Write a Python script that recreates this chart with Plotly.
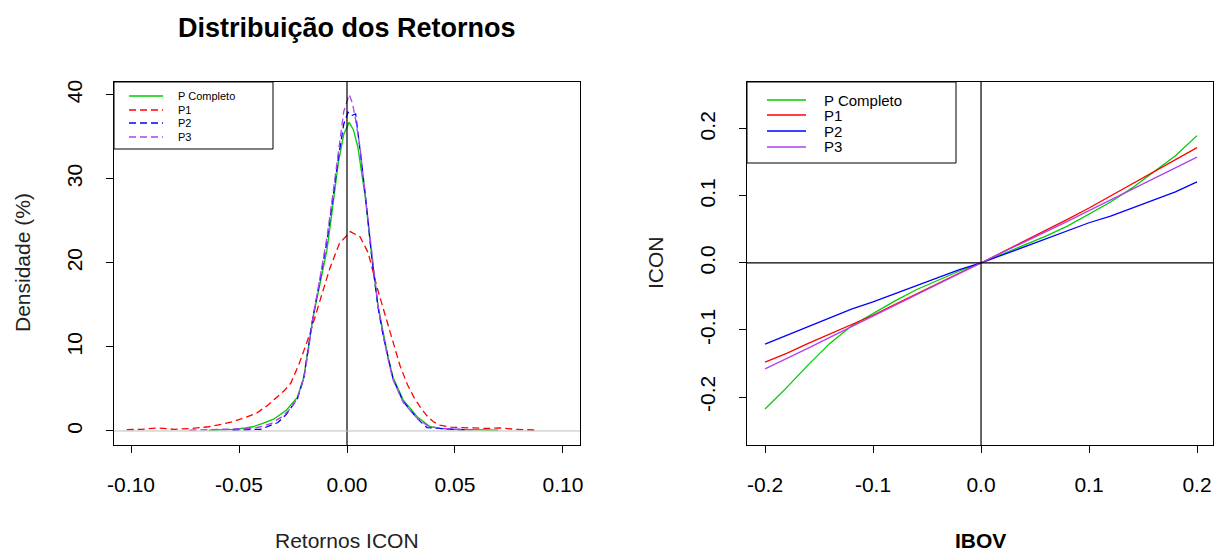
import plotly.graph_objects as go

# ---------------- data ----------------
# Kernel densities of ICON returns (density in %), one sample per period
ret_full = [-0.064, -0.053, -0.047, -0.0436, -0.039, -0.034, -0.028, -0.023, -0.020, -0.018,
            -0.0158, -0.0125, -0.0093, -0.007, -0.004, -0.0015, 0.001, 0.003, 0.005, 0.0084,
            0.0116, 0.0143, 0.0167, 0.019, 0.0213, 0.026, 0.0325, 0.0385, 0.043, 0.048, 0.058, 0.070]
dens_full = [0.1, 0.2, 0.35, 0.5, 0.9, 1.4, 2.5, 4.0, 6.4, 9.5,
             13.4, 17.5, 21.5, 25.9, 31.9, 35.3, 36.7, 35.8, 33.8, 27.9,
             20.4, 15.0, 11.7, 8.8, 6.4, 3.7, 1.7, 0.5, 0.3, 0.2, 0.15, 0.1]

ret_p1 = [-0.102, -0.095, -0.088, -0.080, -0.072, -0.064, -0.058, -0.053, -0.047, -0.042,
          -0.037, -0.0325, -0.029, -0.026, -0.022, -0.017, -0.0125, -0.008, -0.0035, 0.0015,
          0.006, 0.0098, 0.014, 0.017, 0.020, 0.0245, 0.028, 0.031, 0.034, 0.037,
          0.040, 0.043, 0.048, 0.056, 0.064, 0.071, 0.078, 0.088]
dens_p1 = [0.15, 0.2, 0.35, 0.2, 0.3, 0.5, 0.8, 1.1, 1.6, 2.1,
           3.0, 4.0, 4.8, 5.7, 8.1, 11.7, 15.6, 19.3, 22.3, 23.7,
           23.1, 21.2, 17.0, 14.4, 12.0, 7.8, 5.5, 4.0, 2.8, 1.8,
           1.1, 0.7, 0.45, 0.35, 0.3, 0.35, 0.2, 0.1]

ret_p2 = [-0.053, -0.046, -0.040, -0.036, -0.032, -0.028, -0.023, -0.020, -0.018, -0.0158,
          -0.0125, -0.0093, -0.007, -0.004, -0.0015, 0.0005, 0.002, 0.004, 0.006, 0.0084,
          0.0116, 0.0143, 0.0167, 0.019, 0.0213, 0.026, 0.0325, 0.037, 0.043, 0.050, 0.056]
dens_p2 = [0.1, 0.15, 0.2, 0.6, 1.0, 2.0, 3.8, 6.3, 9.5, 13.5,
           18.0, 22.5, 26.8, 32.5, 36.5, 37.9, 37.5, 37.7, 33.5, 28.3,
           20.4, 14.8, 11.4, 8.6, 6.2, 3.5, 1.5, 0.4, 0.3, 0.2, 0.1]

ret_p3 = [-0.073, -0.060, -0.050, -0.044, -0.040, -0.035, -0.030, -0.026, -0.023, -0.020,
          -0.018, -0.0158, -0.0125, -0.0093, -0.007, -0.004, -0.0015, 0.0010, 0.0025, 0.004,
          0.006, 0.0084, 0.0116, 0.0143, 0.0167, 0.019, 0.0213, 0.026, 0.0325, 0.038,
          0.045, 0.052, 0.060]
dens_p3 = [0.1, 0.15, 0.2, 0.3, 0.5, 0.9, 1.7, 2.7, 3.9, 6.2,
           9.3, 13.4, 18.2, 23.0, 27.3, 33.5, 38.0, 40.0, 39.0, 37.0,
           33.8, 28.2, 20.6, 15.0, 11.5, 8.5, 6.1, 3.4, 1.5, 0.5,
           0.3, 0.2, 0.1]

# ICON response to IBOV moves, per period
ibov = [-0.20, -0.18, -0.16, -0.14, -0.12, -0.10, -0.08, -0.06, -0.04, -0.02, 0.0,
        0.02, 0.04, 0.06, 0.08, 0.10, 0.12, 0.14, 0.16, 0.18, 0.20]
icon_full = [-0.218, -0.186, -0.152, -0.120, -0.094, -0.075, -0.057, -0.040, -0.026, -0.012, 0.0,
             0.013, 0.026, 0.040, 0.055, 0.073, 0.091, 0.112, 0.136, 0.160, 0.190]
icon_p1 = [-0.148, -0.135, -0.120, -0.106, -0.092, -0.078, -0.062, -0.046, -0.030, -0.015, 0.0,
           0.016, 0.032, 0.049, 0.065, 0.082, 0.100, 0.117, 0.135, 0.153, 0.172]
icon_p2 = [-0.121, -0.108, -0.096, -0.082, -0.069, -0.058, -0.046, -0.034, -0.022, -0.010, 0.0,
           0.012, 0.024, 0.036, 0.048, 0.060, 0.070, 0.082, 0.094, 0.106, 0.121]
icon_p3 = [-0.158, -0.143, -0.127, -0.111, -0.095, -0.080, -0.064, -0.048, -0.032, -0.016, 0.0,
           0.016, 0.031, 0.046, 0.062, 0.078, 0.094, 0.110, 0.126, 0.142, 0.158]

series_names = ["P Completo", "P1", "P2", "P3"]
left_xticks = [-0.10, -0.05, 0.00, 0.05, 0.10]
left_xlabels = ["-0.10", "-0.05", "0.00", "0.05", "0.10"]
left_yticks = [0, 10, 20, 30, 40]
right_ticks = [-0.2, -0.1, 0.0, 0.1, 0.2]
right_labels = ["-0.2", "-0.1", "0.0", "0.1", "0.2"]

# ---------------- styling ----------------
W, H = 1214, 552
FONT = "Liberation Sans, Arial, sans-serif"
colors = ["#00CD00", "#FF0000", "#0000FF", "#B040F0"]
DASH = "7px,4px"


def px(x):
    return x / W


def py(y):
    return 1 - y / H


fig = go.Figure()

left_sets = [(ret_full, dens_full, "solid"), (ret_p1, dens_p1, DASH),
             (ret_p2, dens_p2, DASH), (ret_p3, dens_p3, DASH)]
for (xs, ys, dash), name, c in zip(left_sets, series_names, colors):
    fig.add_trace(go.Scatter(x=xs, y=ys, mode="lines", name=name, showlegend=False,
                             line=dict(color=c, width=1.3, dash=dash),
                             xaxis="x", yaxis="y"))

right_sets = [icon_full, icon_p1, icon_p2, icon_p3]
for ys, name, c in zip(right_sets, series_names, colors):
    fig.add_trace(go.Scatter(x=ibov, y=ys, mode="lines", name=name, showlegend=False,
                             line=dict(color=c, width=1.3),
                             xaxis="x2", yaxis="y2"))

axis_common = dict(showline=True, mirror=True, linecolor="black", linewidth=1,
                   ticks="outside", ticklen=7, tickcolor="black", tickwidth=1,
                   showgrid=False, zeroline=False, automargin=False,
                   tickfont=dict(family=FONT, size=21, color="black"))

fig.update_layout(
    width=W, height=H,
    margin=dict(l=0, r=0, t=0, b=0),
    paper_bgcolor="white", plot_bgcolor="white",
    xaxis=dict(domain=[px(114), px(580)], range=[-0.1079, 0.1079],
               tickvals=left_xticks, ticktext=left_xlabels,
               ticklabelstandoff=14, anchor="y", **axis_common),
    yaxis=dict(domain=[py(445), py(82)], range=[-1.67, 41.5],
               tickvals=left_yticks, tickangle=-90,
               ticklabelstandoff=16, anchor="x", **axis_common),
    xaxis2=dict(domain=[px(747), px(1213)], range=[-0.2167, 0.2148],
                tickvals=right_ticks, ticktext=right_labels,
                ticklabelstandoff=14, anchor="y2", **axis_common),
    yaxis2=dict(domain=[py(445), py(82)], range=[-0.2716, 0.270],
                tickvals=right_ticks, ticktext=right_labels, tickangle=-90,
                ticklabelstandoff=16, anchor="x2", **axis_common),
)

shapes = []
# reference lines: zero return (black) and zero density (grey) on the left panel
shapes.append(dict(type="line", xref="x", yref="y domain", x0=0, x1=0, y0=0, y1=1,
                   line=dict(color="black", width=1.2)))
shapes.append(dict(type="line", xref="x domain", yref="y", x0=0, x1=1, y0=0, y1=0,
                   line=dict(color="#BEBEBE", width=1)))
# axes through the origin on the right panel
shapes.append(dict(type="line", xref="x2", yref="y2 domain", x0=0, x1=0, y0=0, y1=1,
                   line=dict(color="black", width=1.2)))
shapes.append(dict(type="line", xref="x2 domain", yref="y2", x0=0, x1=1, y0=0, y1=0,
                   line=dict(color="black", width=1.2)))

annotations = []


def add_legend(box, rows_y, line_x, text_x, fsize, dashes):
    x0, y0, x1, y1 = box
    shapes.append(dict(type="rect", xref="paper", yref="paper",
                       x0=px(x0), x1=px(x1), y0=py(y1), y1=py(y0),
                       line=dict(color="black", width=1), fillcolor="white", layer="above"))
    for yy, name, c, d in zip(rows_y, series_names, colors, dashes):
        shapes.append(dict(type="line", xref="paper", yref="paper",
                           x0=px(line_x[0]), x1=px(line_x[1]), y0=py(yy), y1=py(yy),
                           line=dict(color=c, width=1.3, dash=d), layer="above"))
        annotations.append(dict(xref="paper", yref="paper", x=px(text_x), y=py(yy),
                                text=name, showarrow=False, xanchor="left", yanchor="middle",
                                font=dict(family=FONT, size=fsize, color="black")))


add_legend((114, 82, 273, 149), [96, 110, 123, 137], (129, 163), 176, 11,
           ["solid", DASH, DASH, DASH])
add_legend((747, 82, 956, 163), [100, 115, 131, 147], (767, 806), 822, 15,
           ["solid", "solid", "solid", "solid"])

# titles
annotations.append(dict(xref="paper", yref="paper", x=px(347), y=py(28),
                        text="<b>Distribuição dos Retornos</b>", showarrow=False,
                        xanchor="center", yanchor="middle",
                        font=dict(family=FONT, size=27, color="black")))
annotations.append(dict(xref="paper", yref="paper", x=px(347), y=py(540),
                        text="Retornos ICON", showarrow=False,
                        xanchor="center", yanchor="middle",
                        font=dict(family=FONT, size=21, color="#222222")))
annotations.append(dict(xref="paper", yref="paper", x=px(22), y=py(263),
                        text="Densidade (%)", showarrow=False, textangle=-90,
                        xanchor="center", yanchor="middle",
                        font=dict(family=FONT, size=21, color="#222222")))
annotations.append(dict(xref="paper", yref="paper", x=px(980), y=py(540),
                        text="<b>IBOV</b>", showarrow=False,
                        xanchor="center", yanchor="middle",
                        font=dict(family=FONT, size=21, color="black")))
annotations.append(dict(xref="paper", yref="paper", x=px(655), y=py(263),
                        text="ICON", showarrow=False, textangle=-90,
                        xanchor="center", yanchor="middle",
                        font=dict(family=FONT, size=21, color="#222222")))

fig.update_layout(shapes=shapes, annotations=annotations)

fig.write_html("out.html")
